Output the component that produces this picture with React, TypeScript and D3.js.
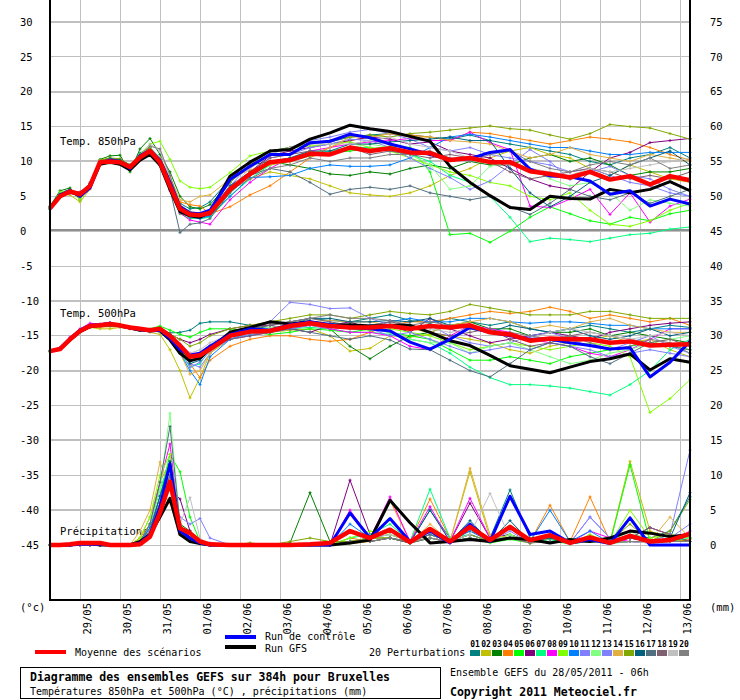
import React from 'react'
import * as d3 from 'd3'

// time steps (hours from 28/05/2011 06h)
const hours = [
  0, 6, 12, 18, 24, 30, 36, 42, 48, 54, 60, 66, 72, 78, 84, 90, 96,
  108, 120, 132, 144, 156, 168, 180, 192,
  204, 216, 228, 240, 252, 264, 276, 288,
  300, 312, 324, 336, 348, 360, 372, 384,
]

const dayLabels = ['29/05', '30/05', '31/05', '01/06', '02/06', '03/06', '04/06', '05/06', '06/06', '07/06', '08/06', '09/06', '10/06', '11/06', '12/06', '13/06']
const leftTicks = [30, 25, 20, 15, 10, 5, 0, -5, -10, -15, -20, -25, -30, -35, -40, -45]
const rightTicks = [75, 70, 65, 60, 55, 50, 45, 40, 35, 30, 25, 20, 15, 10, 5, 0]

const memberNames = ['01', '02', '03', '04', '05', '06', '07', '08', '09', '10', '11', '12', '13', '14', '15', '16', '17', '18', '19', '20']
const memberColors = ['#008080', '#c0c000', '#008000', '#ff8000', '#00ff00', '#800080', '#00ff80', '#ff00ff', '#80ff00', '#0080ff', '#8080ff', '#80ff80', '#8080ff', '#e0b040', '#80a800', '#006080', '#507080', '#806070', '#c0c0c0', '#808080']

// ---- Temp 850hPa ----
const t850Mean = [3.3, 5.0, 5.7, 5.3, 6.5, 9.9, 10.0, 9.9, 9.2, 10.6, 11.5, 9.9, 6.5, 3.2, 2.4, 2.3, 2.6, 6.0, 8.2, 9.9, 10.2, 11.1, 11.0, 12.0, 11.5, 11.9, 11.3, 11.2, 10.2, 10.5, 9.9, 9.9, 8.6, 8.2, 7.7, 8.5, 7.4, 7.9, 6.7, 7.9, 7.3]
const t850Control = [3.3, 5.2, 5.8, 5.0, 6.2, 9.8, 10.2, 10.0, 9.0, 10.8, 11.6, 10.2, 7.0, 3.5, 2.6, 2.5, 3.0, 7.4, 9.3, 11.0, 11.0, 12.7, 12.9, 13.9, 13.4, 12.5, 11.8, 11.0, 10.3, 10.4, 11.3, 11.7, 8.9, 7.9, 7.8, 7.2, 5.3, 5.8, 3.6, 4.6, 3.9]
const t850Gfs = [3.3, 5.1, 5.6, 5.2, 6.4, 9.6, 9.9, 9.6, 8.8, 10.2, 11.0, 9.5, 6.0, 2.8, 2.2, 2.0, 2.8, 7.9, 9.9, 11.5, 11.7, 13.2, 14.1, 15.2, 14.7, 14.3, 13.6, 12.9, 9.3, 7.0, 5.1, 3.4, 3.1, 5.0, 4.7, 4.6, 6.0, 5.5, 6.0, 7.1, 5.8]
const t850Members = [
  [3.4, 5.5, 6.0, 5.0, 7.0, 10.1, 10.4, 10.2, 9.4, 11.2, 12.0, 10.5, 7.5, 4.0, 3.2, 3.4, 4.2, 7.5, 10.0, 11.5, 12.0, 12.5, 12.8, 13.5, 13.8, 14.0, 13.8, 13.5, 13.2, 13.8, 13.0, 12.5, 12.0, 11.5, 11.0, 10.0, 9.5, 10.5, 11.0, 12.0, 10.5],
  [3.2, 5.3, 5.2, 4.2, 6.0, 9.6, 9.8, 9.7, 9.0, 10.4, 11.0, 9.5, 6.0, 2.8, 2.0, 2.2, 2.9, 6.5, 7.5, 8.5, 8.0, 7.5, 6.5, 5.5, 5.2, 5.0, 5.5, 6.5, 8.0, 9.0, 10.5, 11.5, 12.0, 11.0, 10.5, 9.0, 8.0, 9.5, 8.5, 7.5, 7.0],
  [3.6, 5.8, 6.2, 4.5, 6.8, 10.3, 10.8, 10.9, 8.5, 11.8, 13.3, 11.0, 8.5, 5.0, 3.5, 3.2, 3.8, 7.0, 9.5, 10.0, 9.5, 9.0, 8.2, 8.0, 8.5, 8.2, 9.0, 9.5, 9.0, 10.0, 9.5, 9.5, 10.5, 11.0, 10.0, 10.5, 9.5, 8.0, 8.5, 8.5, 9.0],
  [3.3, 5.2, 5.6, 5.0, 6.4, 9.8, 10.0, 9.8, 9.2, 10.5, 11.2, 9.8, 6.4, 4.2, 3.8, 3.6, 2.5, 3.5, 5.2, 6.5, 8.5, 10.5, 12.0, 13.0, 13.5, 14.0, 13.8, 13.5, 13.0, 14.2, 14.0, 13.5, 13.0, 12.5, 13.0, 13.5, 13.2, 12.8, 12.0, 11.0, 10.2],
  [3.2, 4.8, 5.5, 5.5, 6.5, 10.0, 10.0, 9.8, 9.0, 10.4, 11.2, 9.6, 6.0, 2.5, 1.8, 2.0, 2.2, 5.5, 8.0, 9.5, 10.0, 10.8, 11.2, 11.5, 11.8, 12.2, 12.0, 8.5, -0.5, -0.3, -1.6, 0.0, 2.0, 3.5, 2.5, 1.5, 1.0, 2.0, 1.5, 2.5, 3.0],
  [3.3, 5.0, 5.8, 5.6, 6.6, 10.0, 10.2, 10.0, 9.3, 10.8, 11.5, 10.2, 7.0, 3.0, 2.2, 2.0, 2.3, 6.2, 8.5, 10.8, 11.5, 12.0, 12.5, 13.0, 13.5, 13.2, 12.5, 12.8, 11.5, 11.0, 10.5, 9.0, 7.5, 6.5, 6.0, 8.5, 10.5, 11.3, 12.7, 13.0, 13.3],
  [3.3, 5.1, 5.7, 5.2, 6.4, 9.9, 10.0, 9.8, 9.1, 10.5, 11.2, 9.6, 6.0, 2.7, 2.0, 1.8, 2.0, 5.0, 7.5, 9.5, 10.5, 11.0, 11.5, 12.0, 12.0, 11.5, 11.0, 10.0, 8.0, 7.0, 5.0, 2.0, -1.5, -1.0, -1.2, -1.5, -1.0, -0.5, -0.3, 0.3, 0.6],
  [3.2, 5.0, 5.4, 5.3, 6.2, 9.8, 9.9, 9.6, 9.0, 10.4, 11.2, 9.5, 5.8, 2.6, 1.6, 1.3, 1.0, 4.5, 7.0, 9.0, 10.5, 11.5, 12.0, 12.5, 12.8, 13.0, 13.3, 13.0, 13.0, 14.2, 12.7, 11.7, 3.6, 3.4, 4.6, 6.0, 2.4, 5.5, 1.3, 3.6, 4.6],
  [3.5, 5.6, 5.8, 4.5, 6.5, 10.2, 10.5, 10.2, 9.5, 11.0, 12.5, 12.9, 10.3, 7.2, 6.3, 6.1, 6.3, 8.4, 10.8, 11.5, 12.0, 12.2, 12.5, 12.8, 12.0, 11.5, 10.5, 9.5, 8.5, 8.0, 7.0, 6.5, 5.0, 4.5, 5.5, 3.0, 1.0, 0.7, 1.5, 3.0, 4.0],
  [3.3, 5.1, 5.8, 5.5, 6.8, 10.0, 10.1, 9.8, 9.2, 10.6, 11.4, 9.6, 6.2, 3.0, 2.0, 1.8, 2.2, 5.0, 7.7, 7.8, 8.0, 9.0, 9.5, 9.3, 9.3, 9.5, 10.5, 12.0, 13.5, 13.9, 13.5, 13.0, 12.5, 12.0, 12.0, 11.5, 11.0, 11.0, 11.3, 11.3, 11.3],
  [3.4, 5.2, 5.8, 5.2, 6.6, 10.0, 10.2, 10.0, 9.3, 10.5, 11.0, 9.4, 6.8, 3.5, 2.5, 2.6, 3.0, 6.5, 8.5, 10.5, 11.0, 12.0, 12.5, 13.2, 13.0, 12.0, 10.5, 9.0, 7.7, 6.0, 7.2, 9.5, 11.7, 10.0, 7.4, 8.5, 9.3, 8.0, 7.5, 6.0, 5.0],
  [3.3, 5.0, 5.6, 5.4, 6.3, 9.9, 10.0, 9.9, 9.1, 10.6, 11.4, 9.8, 6.4, 3.0, 2.3, 2.2, 2.8, 6.0, 8.5, 10.0, 10.5, 11.5, 11.0, 12.0, 12.5, 12.0, 11.0, 9.5, 6.0, 6.5, 9.3, 10.0, 9.0, 7.5, 6.5, 7.0, 5.5, 3.0, 4.5, 4.0, 3.6],
  [3.2, 4.9, 5.5, 5.6, 6.5, 9.9, 9.9, 9.8, 9.2, 10.6, 11.3, 9.7, 6.3, 2.8, 2.0, 2.2, 2.6, 6.5, 9.5, 11.5, 12.0, 13.0, 13.5, 14.2, 14.6, 14.0, 13.2, 12.0, 11.5, 12.0, 11.0, 10.5, 10.0, 9.5, 8.5, 9.0, 8.0, 7.0, 6.5, 5.5, 5.0],
  [3.4, 5.2, 5.5, 5.2, 6.6, 9.7, 9.9, 9.8, 9.3, 10.8, 11.8, 10.5, 7.8, 4.5, 4.2, 5.0, 5.2, 7.5, 8.8, 9.5, 10.0, 11.0, 12.0, 13.5, 13.5, 14.0, 13.5, 13.5, 13.0, 12.8, 12.5, 11.5, 10.5, 11.0, 12.0, 11.0, 10.5, 10.0, 11.0, 10.5, 10.0],
  [3.3, 5.1, 5.7, 5.5, 6.7, 10.2, 10.5, 10.4, 9.5, 10.9, 12.0, 10.3, 6.8, 3.4, 2.6, 2.5, 3.0, 7.0, 9.5, 11.5, 12.0, 12.5, 13.0, 13.5, 13.8, 13.5, 14.0, 14.2, 14.5, 14.8, 15.1, 14.7, 14.5, 13.8, 13.2, 14.0, 15.3, 15.0, 14.8, 14.0, 13.2],
  [3.3, 5.3, 5.9, 5.4, 6.7, 10.0, 10.4, 10.2, 9.5, 10.9, 11.6, 10.0, 6.6, 3.3, 2.4, 2.2, 2.5, 6.5, 8.5, 10.0, 10.5, 11.5, 11.5, 12.5, 12.5, 12.8, 13.0, 13.2, 13.5, 13.0, 13.0, 9.0, 5.5, 3.5, 5.0, 7.0, 8.0, 9.5, 10.5, 11.5, 9.5],
  [3.2, 5.0, 5.6, 5.3, 6.4, 9.8, 9.8, 9.7, 9.0, 10.4, 11.0, 9.5, 6.0, -0.2, 1.0, 1.2, 1.8, 5.5, 8.0, 9.0, 8.5, 7.0, 5.3, 6.0, 6.3, 6.0, 6.5, 5.5, 5.0, 4.5, 5.0, 3.5, 2.4, 4.0, 6.0, 5.0, 4.5, 5.5, 4.0, 5.0, 6.0],
  [3.3, 5.0, 5.6, 5.4, 6.5, 9.9, 10.0, 9.9, 9.2, 10.5, 11.3, 9.6, 6.2, 3.0, 2.2, 2.0, 2.4, 6.0, 8.5, 10.5, 11.0, 11.5, 11.0, 12.0, 11.0, 11.5, 11.0, 10.5, 11.0, 10.5, 10.0, 8.5, 7.5, 8.0, 8.5, 9.0, 8.5, 7.5, 8.0, 7.5, 8.5],
  [3.3, 5.0, 5.6, 5.4, 6.4, 10.0, 10.2, 10.0, 9.0, 10.7, 12.5, 11.5, 7.5, 3.5, 2.5, 2.3, 2.6, 6.2, 9.0, 11.0, 12.0, 12.5, 12.5, 12.5, 13.0, 13.5, 12.5, 12.0, 11.5, 10.5, 10.0, 9.5, 9.0, 8.5, 8.0, 9.0, 8.5, 9.0, 9.5, 10.0, 10.5],
  [3.4, 5.1, 5.8, 5.5, 6.8, 10.1, 10.3, 10.0, 9.0, 10.9, 12.2, 11.8, 8.0, 3.8, 2.8, 2.5, 2.8, 5.8, 7.5, 9.0, 9.5, 10.5, 10.0, 10.5, 10.5, 11.0, 11.0, 11.5, 10.5, 10.0, 11.0, 11.5, 10.0, 9.0, 8.5, 9.5, 10.0, 9.5, 10.5, 9.0, 9.5],
]

// ---- Temp 500hPa ----
const t500Mean = [-17.2, -16.9, -15.5, -14.3, -13.6, -13.5, -13.3, -13.5, -13.8, -14.0, -14.2, -14.0, -15.0, -16.4, -18.0, -17.8, -16.9, -15.0, -14.4, -14.3, -13.6, -13.2, -13.6, -13.8, -13.8, -13.6, -14.0, -13.6, -13.8, -13.5, -14.5, -14.8, -15.7, -15.4, -15.5, -15.5, -16.0, -15.8, -16.4, -16.3, -16.2]
const t500Control = [-17.2, -16.8, -15.4, -14.2, -13.5, -13.4, -13.2, -13.6, -13.9, -14.1, -14.3, -14.2, -15.4, -17.0, -17.8, -17.5, -16.5, -14.8, -14.0, -14.2, -13.4, -13.0, -13.4, -13.8, -14.0, -14.3, -15.9, -16.9, -15.5, -13.8, -14.5, -15.0, -15.5, -15.5, -16.0, -16.4, -16.9, -16.7, -20.9, -18.8, -15.8]
const t500Gfs = [-17.2, -16.9, -15.6, -14.4, -13.7, -13.5, -13.4, -13.5, -13.9, -14.2, -14.1, -14.3, -15.6, -17.5, -18.6, -18.2, -16.8, -14.5, -13.8, -13.0, -13.3, -13.0, -13.5, -13.4, -13.6, -13.5, -13.5, -14.5, -15.7, -16.4, -17.8, -19.3, -19.8, -20.3, -19.5, -18.7, -18.3, -17.6, -19.9, -18.3, -18.8]
const t500Members = [
  [-17.2, -16.8, -15.3, -14.2, -13.5, -13.6, -13.4, -13.4, -13.9, -14.1, -14.4, -14.1, -14.6, -14.5, -14.2, -13.2, -13.0, -13.0, -13.5, -14.0, -13.5, -12.5, -12.8, -13.0, -12.5, -12.0, -12.8, -13.2, -12.5, -13.0, -13.5, -13.0, -14.0, -14.5, -14.0, -13.5, -14.0, -14.5, -14.0, -13.5, -13.8],
  [-17.2, -16.8, -15.6, -14.4, -13.8, -14.0, -14.0, -13.8, -14.0, -14.2, -14.5, -14.8, -17.0, -20.0, -23.9, -21.0, -17.5, -15.5, -15.0, -14.5, -14.2, -14.0, -15.0, -17.2, -16.8, -15.0, -15.2, -14.8, -15.0, -15.5, -16.0, -17.0, -17.5, -16.5, -16.0, -15.5, -15.0, -16.0, -15.5, -17.0, -18.0],
  [-17.3, -16.9, -15.5, -14.3, -13.7, -13.5, -13.4, -13.6, -13.8, -14.2, -14.3, -14.0, -15.2, -17.0, -18.5, -18.0, -16.5, -14.5, -14.0, -14.0, -13.5, -13.0, -14.0, -16.5, -18.3, -16.5, -15.0, -14.5, -13.5, -13.0, -14.0, -14.0, -15.0, -14.5, -14.5, -14.0, -15.0, -14.5, -15.0, -15.5, -16.0],
  [-17.1, -16.8, -15.5, -14.3, -13.6, -13.4, -13.3, -13.4, -13.7, -14.0, -14.2, -14.0, -15.0, -16.8, -19.0, -21.0, -18.5, -16.5, -15.5, -15.0, -15.0, -15.5, -15.8, -15.5, -14.5, -13.5, -13.0, -13.0, -12.5, -12.0, -11.5, -11.8, -11.5, -10.9, -11.5, -12.5, -12.0, -12.5, -13.0, -12.5, -13.5],
  [-17.2, -16.9, -15.4, -14.2, -13.5, -13.5, -13.3, -13.5, -13.8, -14.0, -14.0, -13.6, -14.2, -14.8, -15.2, -14.5, -14.0, -14.0, -14.5, -14.8, -14.5, -14.0, -14.2, -14.5, -14.0, -14.5, -15.0, -15.5, -17.0, -18.5, -18.5, -18.0, -18.5, -19.0, -18.0, -17.5, -17.0, -16.5, -16.0, -16.5, -17.0],
  [-17.2, -16.8, -15.5, -14.3, -13.5, -13.4, -13.2, -13.5, -13.9, -14.1, -14.2, -14.0, -14.8, -15.5, -16.0, -15.5, -14.8, -14.0, -13.5, -13.5, -14.0, -14.5, -13.5, -13.0, -14.0, -13.5, -14.5, -12.5, -14.0, -15.0, -16.0, -15.5, -15.0, -14.5, -15.0, -15.5, -14.5, -14.0, -13.5, -13.2, -13.0],
  [-17.2, -16.9, -15.6, -14.4, -13.7, -13.6, -13.5, -13.6, -13.8, -14.0, -14.3, -14.2, -15.5, -17.5, -19.5, -19.0, -17.0, -15.5, -14.8, -14.5, -14.0, -13.8, -14.0, -14.5, -14.5, -14.8, -15.5, -16.0, -17.5, -19.5, -21.0, -22.0, -22.0, -22.2, -22.5, -23.0, -23.5, -22.0, -20.0, -17.0, -15.5],
  [-17.2, -16.7, -15.2, -14.0, -13.2, -13.3, -13.1, -13.4, -13.8, -14.0, -14.1, -14.0, -15.0, -16.2, -17.5, -17.5, -16.5, -15.5, -15.0, -14.5, -14.0, -13.5, -14.0, -14.5, -14.5, -15.0, -16.5, -17.0, -15.0, -13.5, -14.0, -14.5, -15.5, -16.0, -16.5, -17.5, -18.0, -17.0, -15.5, -14.0, -14.0],
  [-17.3, -16.9, -15.5, -14.3, -13.6, -13.5, -13.3, -13.5, -13.8, -14.0, -14.2, -14.1, -15.2, -16.5, -18.0, -17.5, -16.5, -15.0, -14.5, -14.0, -13.8, -13.5, -13.8, -14.0, -14.2, -14.0, -14.5, -15.0, -16.0, -17.0, -16.5, -16.0, -16.5, -17.0, -16.5, -16.0, -16.5, -18.0, -26.0, -24.0, -21.3],
  [-17.2, -16.9, -15.5, -14.3, -13.6, -13.5, -13.3, -13.5, -13.8, -14.0, -14.2, -14.0, -15.5, -17.5, -20.0, -22.0, -18.0, -15.5, -14.5, -14.0, -13.5, -13.0, -13.2, -13.5, -13.5, -13.0, -12.5, -13.0, -13.0, -12.5, -12.5, -13.0, -13.2, -13.0, -13.0, -13.2, -13.5, -13.5, -14.0, -14.0, -14.0],
  [-17.2, -16.8, -15.4, -14.2, -13.5, -13.4, -13.3, -13.6, -13.9, -14.2, -14.3, -14.2, -15.5, -17.0, -19.0, -19.5, -17.5, -15.0, -14.0, -13.0, -10.2, -10.5, -11.1, -11.0, -12.5, -13.5, -14.0, -13.5, -15.0, -16.0, -16.5, -16.0, -15.0, -14.5, -15.5, -16.5, -17.0, -16.0, -15.0, -16.5, -17.5],
  [-17.2, -16.9, -15.5, -14.3, -13.6, -13.5, -13.4, -13.5, -13.8, -14.1, -14.3, -14.2, -15.3, -16.8, -18.5, -18.0, -16.8, -15.0, -14.2, -13.8, -13.5, -13.2, -13.5, -13.5, -14.0, -14.5, -15.5, -16.0, -16.0, -17.5, -16.5, -16.0, -17.0, -18.0, -19.0, -18.5, -17.5, -17.0, -16.0, -15.5, -15.0],
  [-17.2, -16.8, -15.5, -14.3, -13.6, -13.5, -13.3, -13.5, -13.8, -14.0, -14.2, -14.0, -15.0, -17.0, -19.5, -18.8, -17.2, -15.5, -14.8, -14.5, -14.0, -13.5, -13.8, -14.0, -14.0, -15.0, -14.5, -15.5, -16.5, -17.5, -17.0, -16.5, -17.0, -16.0, -16.5, -17.0, -18.0, -17.5, -17.0, -17.5, -18.0],
  [-17.2, -16.9, -15.6, -14.5, -13.8, -13.8, -13.7, -13.8, -14.0, -14.2, -14.4, -14.3, -15.5, -17.5, -20.5, -20.0, -17.5, -15.0, -14.2, -14.0, -13.5, -13.0, -12.8, -13.0, -13.0, -13.5, -14.0, -14.5, -13.5, -13.0, -12.5, -13.0, -14.0, -13.5, -14.0, -13.0, -12.5, -13.5, -14.0, -14.5, -14.5],
  [-17.2, -16.8, -15.4, -14.2, -13.5, -13.4, -13.3, -13.4, -13.7, -14.0, -14.1, -13.9, -14.8, -15.5, -16.5, -16.0, -15.0, -14.0, -13.5, -13.0, -12.5, -12.0, -12.0, -12.5, -12.0, -11.5, -11.8, -12.0, -11.5, -10.5, -11.0, -11.5, -12.0, -12.0, -12.0, -11.5, -11.5, -12.0, -12.5, -12.5, -12.5],
  [-17.2, -16.9, -15.5, -14.4, -13.7, -13.6, -13.4, -13.5, -13.8, -14.0, -14.2, -14.0, -15.2, -17.0, -19.0, -18.5, -17.0, -14.5, -14.0, -13.5, -13.0, -12.5, -12.5, -13.0, -13.0, -12.8, -13.0, -12.5, -13.5, -14.0, -14.5, -13.5, -14.0, -14.5, -14.0, -15.0, -15.5, -15.0, -14.0, -15.0, -14.5],
  [-17.2, -16.9, -15.5, -14.3, -13.6, -13.5, -13.3, -13.5, -13.8, -14.0, -14.2, -14.0, -15.0, -16.5, -18.0, -17.5, -16.5, -15.5, -15.0, -14.5, -14.0, -14.5, -15.0, -15.5, -15.0, -15.6, -16.9, -17.0, -18.5, -20.0, -20.9, -19.0, -17.0, -16.0, -16.5, -18.0, -19.0, -17.5, -16.0, -16.5, -17.0],
  [-17.2, -16.9, -15.5, -14.3, -13.6, -13.5, -13.3, -13.5, -13.8, -14.0, -14.2, -14.0, -15.0, -16.5, -18.0, -17.5, -16.5, -14.5, -14.0, -13.5, -13.0, -12.5, -13.0, -13.5, -13.5, -13.0, -13.5, -14.5, -15.0, -14.5, -14.0, -15.5, -16.5, -16.0, -15.0, -14.5, -15.0, -15.5, -16.0, -15.5, -16.5],
  [-17.2, -16.9, -15.5, -14.3, -13.6, -13.5, -13.3, -13.5, -13.8, -14.0, -14.2, -14.0, -15.0, -16.2, -17.5, -17.0, -16.0, -14.8, -14.2, -14.0, -13.5, -13.0, -13.5, -13.5, -13.8, -13.5, -14.0, -14.0, -14.5, -14.0, -14.5, -15.0, -15.5, -14.5, -14.0, -14.5, -15.0, -15.5, -15.0, -14.5, -15.0],
  [-17.2, -16.9, -15.5, -14.3, -13.6, -13.5, -13.3, -13.5, -13.8, -14.0, -14.2, -14.0, -15.0, -16.8, -18.5, -18.0, -16.5, -14.5, -13.8, -13.2, -13.0, -12.5, -12.0, -12.5, -12.5, -12.8, -13.5, -13.0, -13.5, -14.0, -14.5, -14.5, -15.0, -15.5, -15.0, -16.0, -17.0, -16.5, -15.5, -16.0, -17.5],
]

// ---- Precipitations (mm) ----
const rrMean = [0, 0, 0.1, 0.3, 0.3, 0.3, 0, 0, 0, 0.1, 1.2, 4.6, 9.1, 2.4, 1.7, 0.5, 0.1, 0, 0, 0, 0, 0.1, 0.3, 2.0, 1.0, 2.2, 0.4, 2.3, 0.5, 2.6, 0.7, 2.6, 0.7, 1.4, 0.3, 1.1, 0.3, 1.3, 0.5, 0.7, 1.6]
const rrControl = [0, 0, 0, 0.1, 0.1, 0.1, 0, 0, 0, 0.3, 1.5, 5.5, 11.7, 2, 1, 0.3, 0, 0, 0, 0, 0, 0, 0, 4.6, 1, 3.8, 0.5, 2, 0.3, 3, 0.5, 7, 1.5, 2, 0.3, 0.8, 0.2, 3.9, 0, 0, 0]
const rrGfs = [0, 0, 0, 0.2, 0.2, 0, 0, 0, 0, 0.5, 1.5, 4, 6.7, 1.5, 0.5, 0.2, 0, 0, 0, 0, 0, 0, 0, 0.3, 0.7, 6.4, 3.2, 0.3, 0.5, 0.8, 0.5, 1, 0.8, 0.3, 0.8, 0.5, 1, 2, 1.7, 1.2, 1.5]
const rrMembers = [
  [0, 0, 0, 0.2, 0.2, 0, 0, 0, 0, 0.5, 2.5, 6, 11, 2.5, 1, 0.3, 0, 0, 0, 0, 0, 0, 0, 0.5, 1, 1.5, 0.5, 5, 1, 2, 1, 7.9, 1, 0.8, 0.3, 1, 0.5, 1.5, 1, 2, 6.9],
  [0, 0, 0, 0, 0.1, 0, 0, 0, 0, 1, 4, 9, 12, 2, 0.5, 0.2, 0, 0, 0, 0, 0, 0, 0, 0.2, 0.5, 1, 0.3, 1.5, 0.5, 10.5, 1, 1.5, 0.3, 1, 0.2, 1, 0.5, 12, 2, 1, 0.5],
  [0, 0, 0, 0, 0, 0, 0, 0, 0, 0.5, 2, 5, 10, 3, 2, 0.5, 0, 0, 0, 0, 0.3, 7.5, 0.5, 0.5, 1, 1, 0.3, 1, 0.5, 1.5, 0.5, 1, 0.5, 1, 0.2, 0.5, 0.3, 0.5, 0.5, 1, 0.5],
  [0, 0, 0, 0, 0, 0, 0, 0, 0, 1, 3, 8, 6, 1.5, 0.5, 0.2, 0, 0, 0, 0, 0, 0, 0, 1, 0.5, 6.4, 0.5, 6.6, 1, 2.5, 0.5, 1.5, 0.5, 5.7, 0.5, 6.9, 0.5, 1, 0.5, 0.5, 0.8],
  [0, 0, 0, 0, 0, 0, 0, 0, 0, 0.5, 2, 7, 13, 10.5, 4, 0.5, 0, 0, 0, 0, 0, 0, 0, 0.5, 1, 1, 0.3, 1, 0.5, 1, 0.3, 0.8, 0.3, 0.5, 0.2, 0.5, 0.3, 11.5, 0.5, 1.5, 1],
  [0, 0, 0, 0, 0, 0, 0, 0, 0, 0.5, 2, 5, 8, 6.6, 2, 0.5, 0, 0, 0, 0, 0, 0, 0, 9.3, 1.5, 2, 0.5, 1.5, 0.5, 6, 1, 1.5, 0.5, 1, 0.3, 1, 0.5, 1, 2.5, 1.5, 0.5],
  [0, 0, 0, 0, 0, 0, 0, 0, 0, 0.5, 3, 8, 12, 3, 1, 0.3, 0, 0, 0, 0, 0, 0, 0, 1, 1.5, 3, 0.5, 8, 1, 1.5, 0.5, 1.5, 0.3, 0.8, 0.2, 0.5, 0.2, 0.5, 0.3, 0.5, 1],
  [0, 0, 0, 0, 0, 0, 0, 0, 0, 0.5, 3, 9, 14.5, 2, 0.5, 0.2, 0, 0, 0, 0, 0, 0, 0, 5, 1, 6.9, 0.5, 5.5, 0.5, 6.7, 1, 1, 0.5, 1, 0.3, 2, 1, 0.5, 0.3, 0.5, 2],
  [0, 0, 0, 0, 0.2, 0, 0, 0, 0, 1, 4, 10, 13, 3, 1, 0.3, 0, 0, 0, 0, 0, 0, 0, 1, 2, 1.5, 0.5, 1.5, 0.5, 3, 0.5, 1.5, 0.3, 1, 0.2, 1.5, 0.3, 5, 1, 1.5, 1],
  [0, 0, 0, 0, 0, 0, 0, 0, 0, 0.5, 2.5, 7, 11, 2, 0.8, 0.2, 0, 0, 0, 0, 0, 0, 0, 3, 1, 2, 0.5, 2, 0.5, 2, 0.5, 2.5, 0.5, 5, 0.5, 2, 0.3, 1, 0.5, 0.5, 0.5],
  [0, 0, 0, 0, 0, 0, 0, 0, 0, 0.5, 2, 6, 9, 4, 3, 3.8, 1, 0, 0, 0, 0, 0, 0, 0.5, 1, 1, 0.3, 1, 0.5, 1.5, 0.5, 1, 0.5, 1.5, 0.3, 4, 1, 1, 0.5, 1.5, 13.6],
  [0, 0, 0, 0, 0, 0, 0, 0, 0, 0.5, 3, 8, 18.9, 3, 1, 0.3, 0, 0, 0, 0, 0, 0, 0, 0.5, 1, 1, 0.5, 1.5, 0.5, 1, 0.5, 1.5, 0.3, 1, 0.3, 1, 0.5, 2, 0.5, 1, 1],
  [0, 0, 0, 0, 0, 0, 0, 0, 0, 0.5, 2, 6, 10, 3, 1, 0.5, 0.3, 0, 0, 0, 0, 0, 0, 0.5, 1, 2, 0.5, 1.5, 0.5, 1.5, 0.5, 2, 0.3, 1, 0.3, 4, 1, 1, 0.5, 1, 3],
  [0, 0, 0, 0, 0, 0, 0, 0, 0, 2, 5, 11.9, 8, 1.5, 0.5, 0.2, 0, 0, 0, 0, 0, 0, 0, 0.5, 1, 1, 0.3, 3, 0.5, 11, 1.5, 1, 0.3, 1, 0.2, 1, 0.5, 1, 0.5, 4, 1],
  [0, 0, 0, 0, 0, 0, 0, 0, 0, 0.5, 2, 6, 9, 2, 0.5, 0.2, 0, 0, 0.3, 0, 0.5, 1, 0.5, 0.5, 1, 1, 0.3, 1, 0.5, 1.5, 0.5, 1, 0.5, 1.5, 0.3, 1, 0.5, 3, 0.5, 2, 6.5],
  [0, 0, 0, 0, 0, 0, 0, 0, 0, 0.5, 2, 7, 12, 2, 0.5, 0.2, 0, 0, 0, 0, 0, 0, 0, 0.5, 0.5, 1, 0.3, 5, 0.5, 3.5, 0.5, 3.5, 0.5, 1, 0.3, 1, 0.5, 1, 0.5, 1, 7.5],
  [0, 0, 0, 0.3, 0.3, 0, 0, 0, 0, 0.5, 3, 9, 17, 3, 1, 0.3, 0, 0, 0, 0, 0, 0, 0, 0.5, 0.5, 1, 0.5, 1.5, 0.5, 1, 0.5, 1, 0.5, 0.5, 0.3, 0.5, 0.3, 0.5, 0.3, 0.5, 0.5],
  [0, 0, 0, 0, 0, 0, 0, 0, 0, 0.5, 2, 6, 10, 2, 0.5, 0.2, 0, 0, 0, 0, 0, 0, 0, 0.5, 0.5, 1, 0.3, 1, 0.3, 1, 0.5, 1, 0.3, 0.5, 0.3, 0.5, 0.3, 1, 2.5, 1.5, 0.5],
  [0, 0, 0, 0, 0, 0, 0, 0, 0, 0.5, 2, 5, 8, 3, 6.8, 1, 0, 0, 0, 0, 0, 0, 0, 2, 1, 1.5, 0.5, 1, 0.5, 1.5, 7.4, 1, 0.5, 0.5, 0.3, 0.5, 0.3, 0.5, 0.3, 0.5, 0.5],
  [0, 0, 0, 0, 0, 0, 0, 0, 0, 0.5, 2, 6, 11, 2.5, 1, 0.3, 0, 0, 0, 0, 0, 0, 0, 0.5, 0.5, 1, 0.5, 1, 0.5, 1, 0.5, 1, 0.5, 0.5, 0.3, 0.5, 0.3, 0.5, 0.5, 0.5, 0.5],
]

const FONT = '"DejaVu Sans Mono", monospace'

const x = d3.scaleLinear().domain([0, 384]).range([50, 690])
const yT = d3.scaleLinear().domain([-45, 30]).range([545, 22]) // left axis, °C
const yP = d3.scaleLinear().domain([0, 75]).range([545, 22]) // right axis, mm

const makeLine = (scale: d3.ScaleLinear<number, number>) =>
  d3.line<number>().x((_, i) => x(hours[i])).y(d => scale(d))

// little "+" marks on each point of a perturbation
const crosses = (vals: number[], scale: d3.ScaleLinear<number, number>) =>
  vals.map((v, i) => {
    const px = x(hours[i]), py = scale(v)
    return `M${px - 1.5},${py}H${px + 1.5}M${px},${py - 1.5}V${py + 1.5}`
  }).join('')

const panels = [
  { members: t850Members, gfs: t850Gfs, control: t850Control, mean: t850Mean, scale: yT },
  { members: t500Members, gfs: t500Gfs, control: t500Control, mean: t500Mean, scale: yT },
  { members: rrMembers, gfs: rrGfs, control: rrControl, mean: rrMean, scale: yP },
]

export default function App() {
  const dayTicks = dayLabels.map((d, i) => ({ label: d, h: 18 + 24 * i }))

  return (
    <svg width={740} height={700} viewBox="0 0 740 700"
      style={{ position: 'absolute', left: 0, top: 0, background: '#fff', fontFamily: FONT }}>
      <rect x={0} y={0} width={740} height={700} fill="#fff" />

      {/* grid */}
      <g shapeRendering="crispEdges">
        {dayTicks.map(t => (
          <line key={t.label} x1={x(t.h)} x2={x(t.h)} y1={0} y2={600} stroke="#c0c0c0" strokeWidth={1} />
        ))}
        {leftTicks.map(v => (
          v === 0 ? (
            <g key={v}>
              <line x1={50} x2={690} y1={yT(0) - 1.5} y2={yT(0) - 1.5} stroke="#909090" strokeWidth={2} />
              <line x1={50} x2={690} y1={yT(0) + 0.5} y2={yT(0) + 0.5} stroke="#c0c0c0" strokeWidth={1} />
            </g>
          ) : (
            <line key={v} x1={50} x2={690} y1={yT(v)} y2={yT(v)} stroke="#c0c0c0" strokeWidth={v % 10 === 0 ? 2 : 1} />
          )
        ))}
      </g>

      {/* axis labels */}
      <g fontSize={10.5} fill="#000">
        {leftTicks.map(v => (
          <text key={v} x={20} y={yT(v)} dy="0.35em">{v}</text>
        ))}
        {rightTicks.map(v => (
          <text key={v} x={710} y={yP(v)} dy="0.35em">{v}</text>
        ))}
        <text x={20} y={611}>(°c)</text>
        <text x={710} y={611}>(mm)</text>
        {dayTicks.map(t => (
          <text key={t.label} transform={`translate(${x(t.h) + 11},603) rotate(-90)`} textAnchor="end">{t.label}</text>
        ))}
      </g>

      {/* panel titles */}
      <g fontSize={10.5} fill="#000">
        <text x={60} y={145}>Temp. 850hPa</text>
        <text x={60} y={317}>Temp. 500hPa</text>
        <text x={60} y={535}>Précipitations</text>
      </g>

      {/* ensemble members, then GFS, control and mean on top */}
      {panels.map((p, pi) => {
        const line = makeLine(p.scale)
        return (
          <g key={pi} fill="none">
            {p.members.map((m, mi) => (
              <g key={mi} stroke={memberColors[mi]} strokeWidth={1}>
                <path d={line(m) ?? ''} />
                <path d={crosses(m, p.scale)} />
              </g>
            ))}
            <path d={line(p.gfs) ?? ''} stroke="#000" strokeWidth={3} strokeLinejoin="round" />
            <path d={line(p.control) ?? ''} stroke="#0000ff" strokeWidth={3} strokeLinejoin="round" />
            <path d={line(p.mean) ?? ''} stroke="#ff0000" strokeWidth={4.5} strokeLinejoin="round" />
          </g>
        )
      })}

      {/* frame */}
      <g stroke="#000" strokeWidth={2} shapeRendering="crispEdges">
        <line x1={50} x2={50} y1={0} y2={601} />
        <line x1={49} x2={691} y1={600} y2={600} />
        <line x1={690} x2={690} y1={0} y2={601} />
      </g>

      {/* legend */}
      <g fontSize={10} fill="#000">
        <line x1={35} x2={66} y1={652} y2={652} stroke="#ff0000" strokeWidth={4} />
        <text x={75} y={656}>Moyenne des scénarios</text>
        <line x1={225} x2={256} y1={637} y2={637} stroke="#0000ff" strokeWidth={4} />
        <text x={265} y={640}>Run de contrôle</text>
        <line x1={225} x2={256} y1={647} y2={647} stroke="#000" strokeWidth={4} />
        <text x={265} y={652}>Run GFS</text>
        <text x={369} y={656}>20 Perturbations</text>
        {memberNames.map((n, i) => (
          <g key={n}>
            <text x={470 + i * 11 + 5} y={646.5} textAnchor="middle" fontSize={8} fontWeight="bold">{n}</text>
            <rect x={470 + i * 11} y={650} width={10} height={6} fill={memberColors[i]} />
          </g>
        ))}
      </g>

      {/* title boxes */}
      <rect x={20.5} y={667.5} width={420} height={31} fill="none" stroke="#000" strokeWidth={1} />
      <text x={30} y={681} fontSize={11.5} fontWeight="bold">Diagramme des ensembles GEFS sur 384h pour Bruxelles</text>
      <text x={30} y={695} fontSize={10}>Températures 850hPa et 500hPa (°C) , précipitations (mm)</text>
      <text x={450} y={676} fontSize={10}>Ensemble GEFS du 28/05/2011 - 06h</text>
      <text x={450} y={696} fontSize={11.5} fontWeight="bold">Copyright 2011 Meteociel.fr</text>
    </svg>
  )
}
